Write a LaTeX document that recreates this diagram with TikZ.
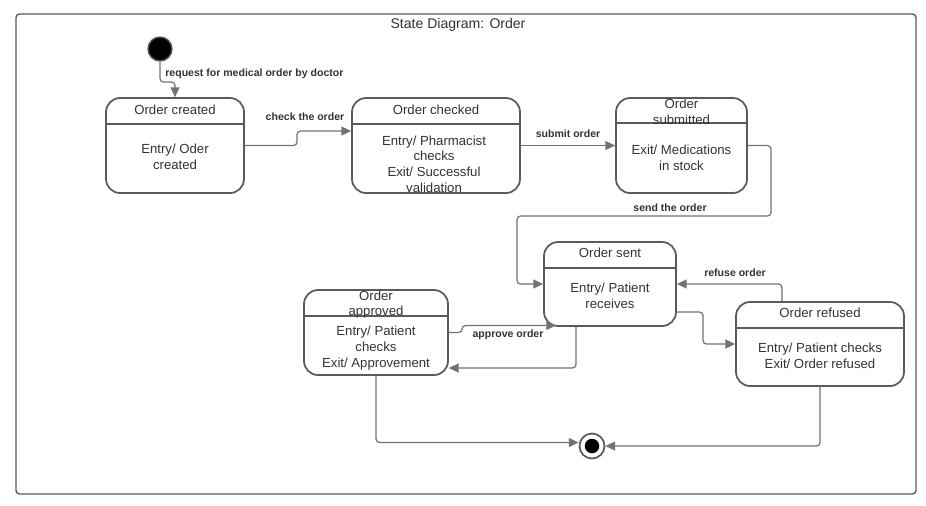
\documentclass[tikz,border=0pt]{standalone}
\usepackage{fontspec}
\setmainfont{Liberation Sans}
\usetikzlibrary{arrows.meta}

\definecolor{boxgray}{HTML}{5A5A5A}
\definecolor{linegray}{HTML}{727272}
\definecolor{txtgray}{HTML}{333333}

\tikzset{
  statebox/.style={draw=boxgray, line width=1pt, rounded corners=0.28cm, inner sep=0pt},
  statetext/.style={font=\fontsize{7.5}{9}\selectfont, text=txtgray, align=center, inner sep=0pt},
  trans/.style={draw=linegray, line width=0.7pt, rounded corners=2pt, -{Triangle[length=5.5pt,width=5pt]}},
  translabel/.style={font=\fontsize{6}{7}\selectfont\bfseries, text=txtgray, inner sep=0pt},
  initstate/.style={circle, fill=black, draw=boxgray, line width=0.8pt, minimum size=0.48cm},
  finalstate/.style={circle, draw=boxgray, line width=1pt, minimum size=0.5cm,
    path picture={\fill[black] (path picture bounding box.center) circle (0.145cm);}}
}

\begin{document}
\begin{tikzpicture}[x=0.02cm,y=-0.02cm]
    \useasboundingbox (0,0) rectangle (926,505);

    % frame
    \draw[boxgray, line width=0.8pt, rounded corners=2pt] (16,14) rectangle (916,494);
    \node[statetext, font=\fontsize{8}{9}\selectfont] (title) at (458,25) {State Diagram: Order};

    % states
    \node[initstate] (init) at (160,49) {};

    \node[statebox, minimum width=2.76cm, minimum height=1.9cm] (created) at (175,145.5) {};
    \draw[boxgray, line width=1pt] (106,124) -- (244,124);
    \node[statetext] (createdhead) at (175,110) {Order created};
    \node[statetext] (createdbody) at (175,157) {Entry/ Oder\\created};

    \node[statebox, minimum width=3.36cm, minimum height=1.9cm] (checked) at (436,145.5) {};
    \draw[boxgray, line width=1pt] (352,124) -- (520,124);
    \node[statetext] (checkedhead) at (436,110) {Order checked};
    \node[statetext] (checkedbody) at (434,164) {Entry/ Pharmacist\\checks\\Exit/ Successful\\validation};

    \node[statebox, minimum width=2.62cm, minimum height=1.9cm] (submitted) at (681.5,145.5) {};
    \draw[boxgray, line width=1pt] (616,123) -- (747,123);
    \node[statetext] (submittedhead) at (681.5,112) {Order\\submitted};
    \node[statetext] (submittedbody) at (681.5,157.5) {Exit/ Medications\\in stock};

    \node[statebox, minimum width=2.64cm, minimum height=1.68cm] (sent) at (610,284) {};
    \draw[boxgray, line width=1pt] (544,268) -- (676,268);
    \node[statetext] (senthead) at (610,253) {Order sent};
    \node[statetext] (sentbody) at (610,296) {Entry/ Patient\\receives};

    \node[statebox, minimum width=2.88cm, minimum height=1.7cm] (approved) at (376,332.5) {};
    \draw[boxgray, line width=1pt] (304,316) -- (448,316);
    \node[statetext] (approvedhead) at (376,304.5) {Order\\approved};
    \node[statetext] (approvedbody) at (376,348) {Entry/ Patient\\checks\\Exit/ Approvement};

    \node[statebox, minimum width=3.36cm, minimum height=1.68cm] (refused) at (820,344) {};
    \draw[boxgray, line width=1pt] (736,328) -- (904,328);
    \node[statetext] (refusedhead) at (820,313) {Order refused};
    \node[statetext] (refusedbody) at (820,356) {Entry/ Patient checks\\Exit/ Order refused};

    \node[finalstate] (final) at (592,446) {};

    % transitions
    \draw[trans] (init) |- (175,82) -- (created.north);
    \node[translabel, anchor=west] (requestlbl) at (165,74) {request for medical order by doctor};

    \draw[trans] (created.east) -| (297,138) |- ([yshift=0.29cm]checked.west);
    \node[translabel] (checklbl) at (305,117) {check the order};

    \draw[trans] (checked.east) -- (submitted.west);
    \node[translabel] (submitlbl) at (568,134) {submit order};

    \draw[trans] (submitted.east) -| (771,216) -| (517,250) |- (sent.west);
    \node[translabel] (sendlbl) at (670,208) {send the order};

    \draw[trans] ([yshift=-0.56cm]sent.east) -| (703,330) |- (refused.west);

    \draw[trans] ([xshift=-0.76cm]refused.north) |- (sent.east);
    \node[translabel] (refuselbl) at (735,273) {refuse order};

    \draw[trans] (approved.east) -- (462,332.5) |- (556,325.5);
    \node[translabel] (approvelbl) at (508,335) {approve order};

    \draw[trans] ([xshift=-0.68cm]sent.south) |- ([yshift=-0.71cm]approved.east);

    \draw[trans] (approved.south) |- ([yshift=0.07cm]final.west);
    \draw[trans] (refused.south) |- (final.east);
\end{tikzpicture}
\end{document}
